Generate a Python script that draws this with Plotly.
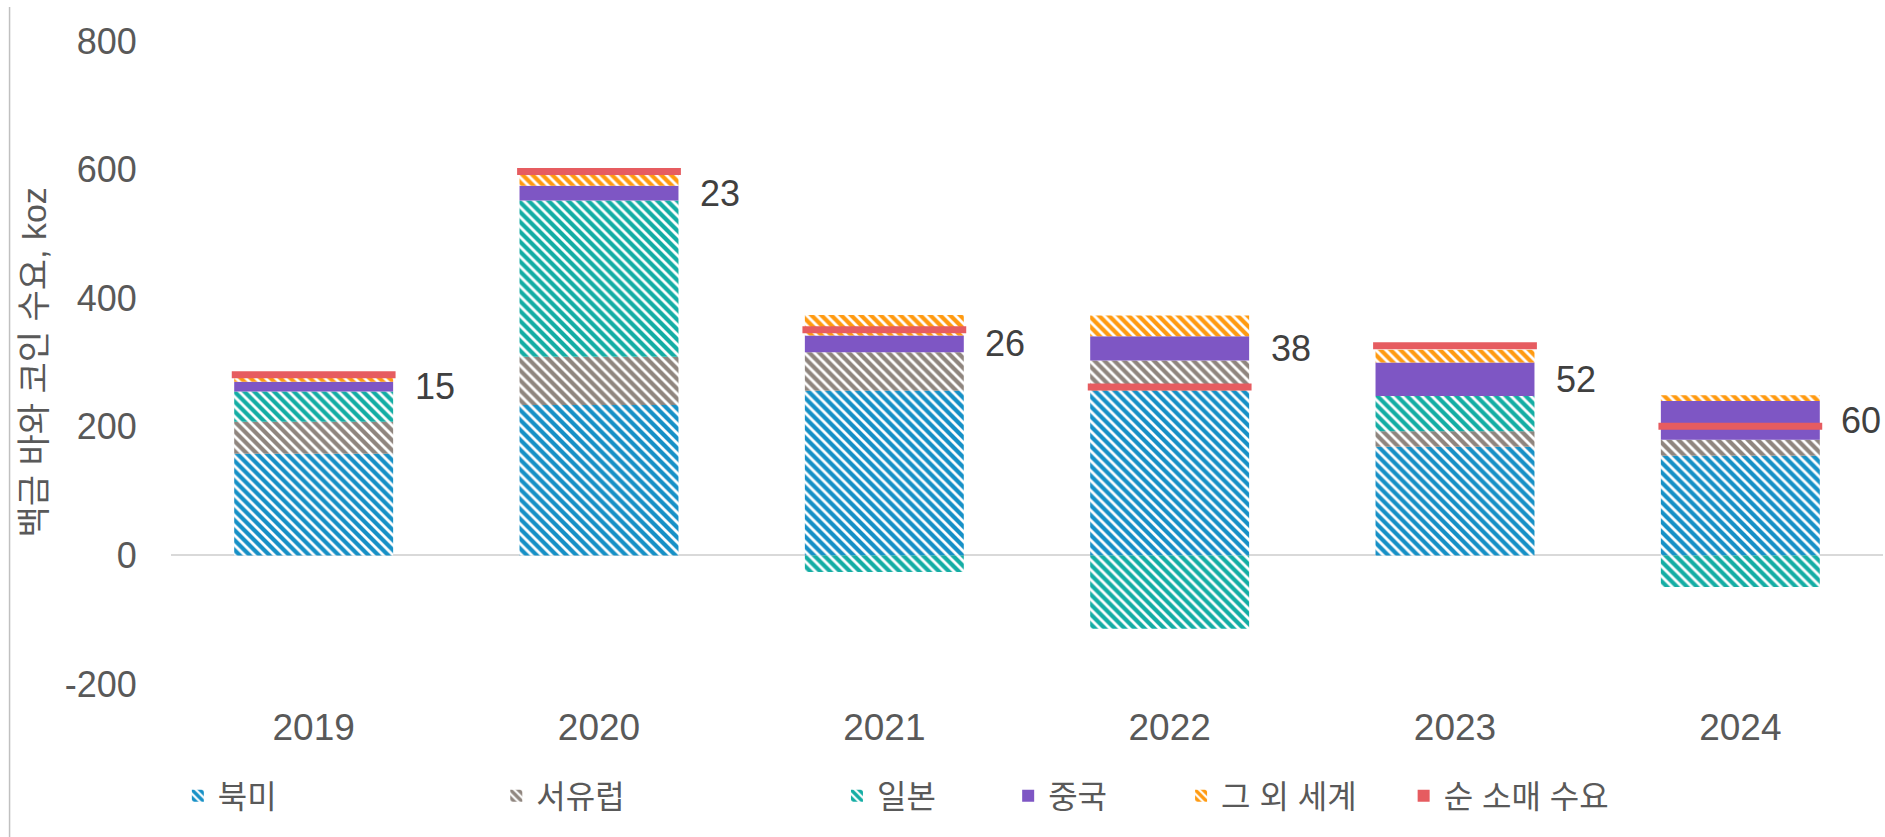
import plotly.graph_objects as go

# platinum bar & coin demand by region, koz
years = ["2019", "2020", "2021", "2022", "2023", "2024"]
north_america = [158, 234, 256, 256, 169, 155]
western_europe = [50, 75, 60, 47, 24, 25]
japan = [47, 243, -26, -114, 55, -49]
china = [15, 23, 26, 38, 52, 60]
rest_of_world = [6, 18, 32, 32, 20, 9]
net_retail = [281, 597, 351, 262, 326, 201]
y_ticks = [-200, 0, 200, 400, 600, 800]
y_tick_labels = ["-200", "0", "200", "400", "600", "800"]

FONT = "Arial, 'Liberation Sans', 'Noto Sans CJK KR', sans-serif"
GREY_TXT = "#595959"

series = [
    ("북미", north_america, "#1690c6"),
    ("서유럽", western_europe, "#8f857e"),
    ("일본", japan, "#14ada4"),
    ("중국", china, "#7e56c4"),
    ("그 외 세계", rest_of_world, "#ff9a10"),
]
legend_ids = ["legend", "legend2", "legend3", "legend4", "legend5", "legend6"]
legend_x = [0.004, 0.190, 0.389, 0.489, 0.590, 0.720]

fig = go.Figure()
for i, (name, vals, color) in enumerate(series):
    hatched = name != "중국"
    fig.add_trace(go.Bar(
        x=years, y=vals, name=name, legend=legend_ids[i],
        marker=dict(
            color=color, line=dict(width=0),
            pattern=dict(shape="\\", size=7, solidity=0.6, fgcolor=color, fgopacity=1, bgcolor="white") if hatched else None,
        ),
    ))

# net retail demand: short thick red bar across each column
fig.add_trace(go.Scatter(
    x=years, y=net_retail, mode="markers", showlegend=False, cliponaxis=False,
    marker=dict(symbol="line-ew", size=117, line=dict(width=7, color="#e65c60")),
))
# legend swatch for the red marker
fig.add_trace(go.Bar(x=[None], y=[None], name="순 소매 수요", legend="legend6",
                     marker=dict(color="#e65c60", line=dict(width=0))))

# China value labels, to the right of the purple segment
for i in range(len(years)):
    below = sum(max(v[i], 0) for v in (north_america, western_europe, japan))
    fig.add_annotation(
        x=i, y=below + china[i] / 2, text=str(china[i]), showarrow=False,
        xanchor="left", xshift=99, font=dict(size=36, color="#404040", family=FONT),
    )

fig.add_annotation(
    text="백금 바와 코인 수요, koz", textangle=-90, showarrow=False,
    xref="paper", yref="paper", x=-0.0806, y=0.5, xanchor="center", yanchor="middle",
    font=dict(size=34, color=GREY_TXT, family=FONT),
)

# thin border line at the far left of the original chart
fig.add_shape(type="line", xref="paper", yref="paper", x0=-0.0943, x1=-0.0943, y0=-0.25, y1=1.053,
              line=dict(color="#c0c0c0", width=1.5))

legends = {}
for lid, lx in zip(legend_ids, legend_x):
    legends[lid] = dict(
        x=lx, y=-0.174, xanchor="left", yanchor="middle", orientation="h",
        font=dict(size=32, color=GREY_TXT, family=FONT), bgcolor="rgba(0,0,0,0)",
    )

fig.update_layout(
    width=1885, height=837,
    barmode="relative", bargap=0.443,
    paper_bgcolor="white", plot_bgcolor="white",
    margin=dict(l=171, r=2, t=41, b=153),
    font=dict(family=FONT, color=GREY_TXT),
    **legends,
)
fig.update_xaxes(
    type="category", categoryorder="array", categoryarray=years, range=[-0.5, len(years) - 0.5],
    showgrid=False, showline=False, ticks="outside", ticklen=11, tickcolor="rgba(0,0,0,0)",
    tickfont=dict(size=37, color=GREY_TXT),
)
fig.update_yaxes(
    range=[-200, 800], tickvals=y_ticks, ticktext=y_tick_labels, showgrid=False, showline=False,
    zeroline=True, zerolinecolor="#d9d9d9", zerolinewidth=2,
    ticks="outside", ticklen=26, tickcolor="rgba(0,0,0,0)",
    tickfont=dict(size=36, color=GREY_TXT),
)

# page body margin would shift the fixed-size figure
fig.write_html("out.html", config={"displayModeBar": False},
               post_script="document.body.style.margin='0';")
